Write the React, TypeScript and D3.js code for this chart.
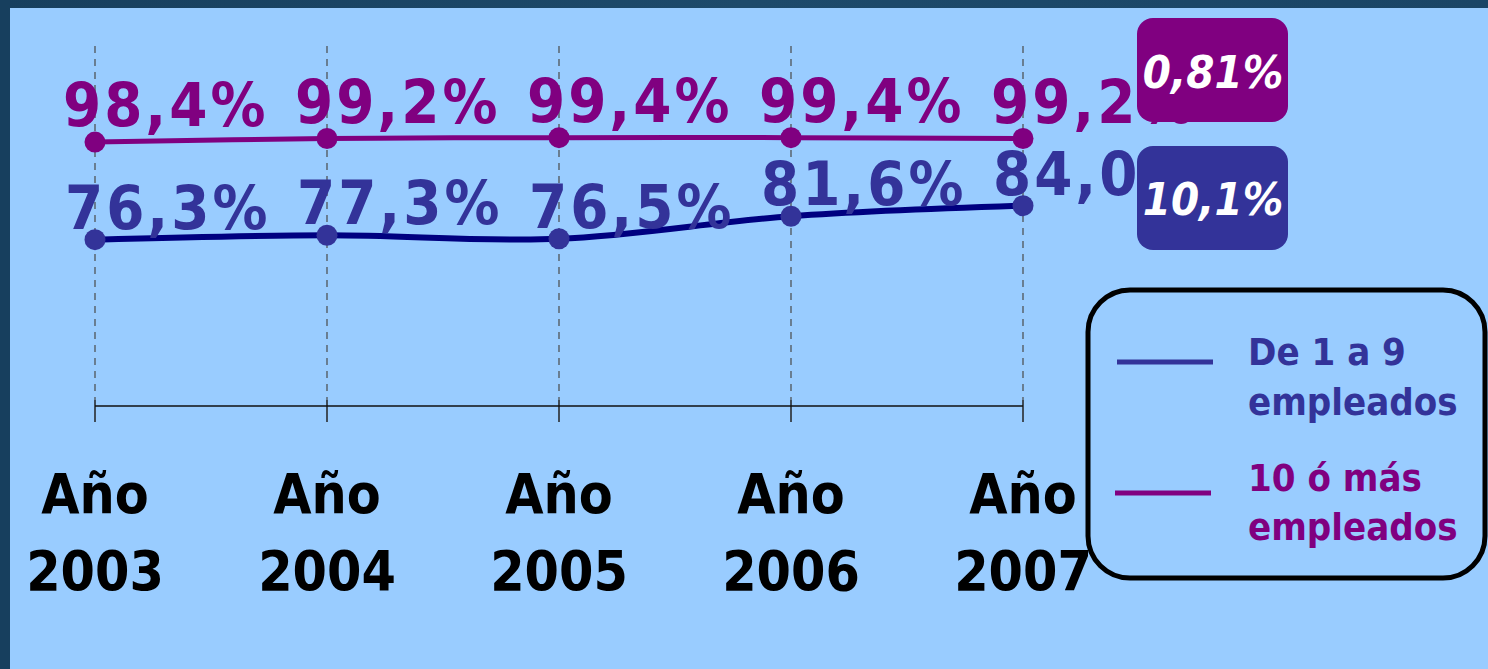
import React from "react";
import { scalePoint, scaleLinear, line as d3line, curveCatmullRom } from "d3";

// datos
const years = ["2003", "2004", "2005", "2006", "2007"];
const small = [76.3, 77.3, 76.5, 81.6, 84.0]; // De 1 a 9 empleados
const large = [98.4, 99.2, 99.4, 99.4, 99.2]; // 10 ó más empleados
const smallLabels = ["76,3%", "77,3%", "76,5%", "81,6%", "84,0%"];
const largeLabels = ["98,4%", "99,2%", "99,4%", "99,4%", "99,2%"];
const growthLarge = "0,81%";
const growthSmall = "10,1%";
const legendSmall = ["De 1 a 9", "empleados"];
const legendLarge = ["10 ó más", "empleados"];

const W = 1488;
const H = 669;
const BG = "#99CCFF";
const MAGENTA = "#800080";
const BLUE = "#333399";
const NAVY = "#000080";
const FONT = "'DejaVu Sans Condensed', 'DejaVu Sans', sans-serif";

export default function App() {
  const x = scalePoint<string>().domain(years).range([95, 1023]);
  const y = scaleLinear().domain([40, 100]).range([400, 135]);
  const axisY = 406;

  const path = d3line<number>()
    .x((_, i) => x(years[i]) as number)
    .y((d) => y(d))
    .curve(curveCatmullRom.alpha(0.5));

  const series = [
    { values: large, labels: largeLabels, line: MAGENTA, dot: MAGENTA, text: MAGENTA, width: 5, dx: -32, dy: -16 },
    { values: small, labels: smallLabels, line: NAVY, dot: BLUE, text: BLUE, width: 6, dx: -30, dy: -11 },
  ];

  return (
    <svg
      width={W}
      height={H}
      style={{ position: "absolute", left: 0, top: 0, display: "block" }}
      fontFamily={FONT}
    >
      <defs>
        <linearGradient id="frame" x1="0" x2="1" y1="0" y2="0">
          <stop offset="0" stopColor="#173f5e" />
          <stop offset="0.5" stopColor="#1d4a6b" />
          <stop offset="1" stopColor="#1a4566" />
        </linearGradient>
      </defs>
      <rect width={W} height={H} fill={BG} />
      {/* marco oscuro */}
      <rect x={0} y={0} width={W} height={8} fill="url(#frame)" />
      <rect x={0} y={0} width={10} height={H} fill="#173f5e" />

      {/* líneas verticales discontinuas */}
      {years.map((yr) => (
        <g key={yr}>
          <line x1={x(yr)} x2={x(yr)} y1={46} y2={400} stroke="#4a4a4a" strokeWidth={1.2} strokeDasharray="7,6" />
          <line x1={x(yr)} x2={x(yr)} y1={400} y2={422} stroke="#222" strokeWidth={1.5} />
        </g>
      ))}
      <line x1={x(years[0])} x2={x(years[years.length - 1])} y1={axisY} y2={axisY} stroke="#111" strokeWidth={1.5} />

      {/* etiquetas eje X */}
      {years.map((yr) => (
        <text key={yr} x={x(yr)} textAnchor="middle" fontWeight="bold" fontSize={55} fill="#000" style={{ fontStretch: "condensed" }}>
          <tspan x={x(yr)} y={513}>Año</tspan>
          <tspan x={x(yr)} y={590}>{yr}</tspan>
        </text>
      ))}

      {/* series */}
      {series.map((s, si) => (
        <g key={si}>
          <path d={path(s.values) || ""} fill="none" stroke={s.line} strokeWidth={s.width} />
          {s.values.map((v, i) => (
            <circle key={i} cx={x(years[i])} cy={y(v)} r={10.5} fill={s.dot} />
          ))}
        </g>
      ))}
      {series.map((s, si) => (
        <g key={"l" + si}>
          {s.values.map((v, i) => (
            <text
              key={i}
              x={(x(years[i]) as number) + s.dx}
              y={y(v) + s.dy}
              fontSize={61}
              fontWeight="bold"
              fill={s.text}
              style={{ fontStretch: "condensed", letterSpacing: "3px" }}
            >
              {s.labels[i]}
            </text>
          ))}
        </g>
      ))}

      {/* cajas de crecimiento */}
      <rect x={1137} y={18} width={151} height={104} rx={16} fill={MAGENTA} />
      <text x={1213} y={88} textAnchor="middle" fill="#fff" fontSize={45} fontWeight="bold" fontStyle="italic" style={{ fontStretch: "condensed" }}>
        {growthLarge}
      </text>
      <rect x={1137} y={146} width={151} height={104} rx={16} fill={BLUE} />
      <text x={1213} y={215} textAnchor="middle" fill="#fff" fontSize={45} fontWeight="bold" fontStyle="italic" style={{ fontStretch: "condensed" }}>
        {growthSmall}
      </text>

      {/* leyenda */}
      <rect x={1088} y={290} width={397} height={288} rx={42} fill="none" stroke="#000" strokeWidth={5} />
      <line x1={1117} x2={1213} y1={362} y2={362} stroke={BLUE} strokeWidth={5} />
      <text fontSize={38} fontWeight="bold" fill={BLUE} style={{ fontStretch: "condensed" }}>
        <tspan x={1248} y={365}>{legendSmall[0]}</tspan>
        <tspan x={1248} y={415}>{legendSmall[1]}</tspan>
      </text>
      <line x1={1115} x2={1211} y1={493} y2={493} stroke={MAGENTA} strokeWidth={5} />
      <text fontSize={38} fontWeight="bold" fill={MAGENTA} style={{ fontStretch: "condensed" }}>
        <tspan x={1248} y={491}>{legendLarge[0]}</tspan>
        <tspan x={1248} y={540}>{legendLarge[1]}</tspan>
      </text>
    </svg>
  );
}
